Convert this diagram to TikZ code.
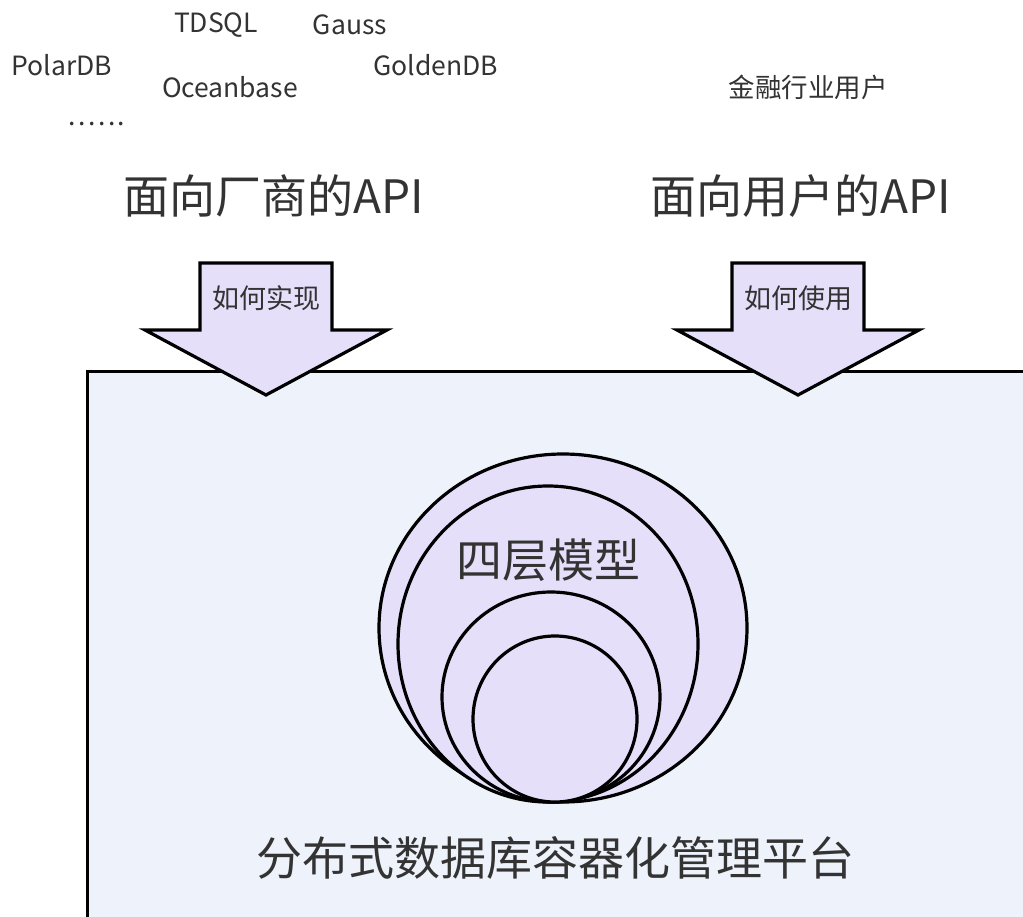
\documentclass[tikz,border=0pt]{standalone}
\usepackage{fontspec}
\setmainfont{Noto Sans CJK SC}
\definecolor{lav}{HTML}{E5DFFA}
\definecolor{boxbg}{HTML}{EEF2FB}
\definecolor{txt}{HTML}{333333}
\begin{document}
\begin{tikzpicture}[x=1pt,y=-1pt,
  lbl/.style={text=txt,inner sep=0pt,font=\fontsize{26.5}{31}\selectfont},
  small/.style={text=txt,inner sep=0pt,font=\fontsize{27}{32}\selectfont},
  big/.style={text=txt,inner sep=0pt,font=\fontsize{46}{54}\selectfont},
  ring/.style={draw=black,line width=3.2pt,fill=lav},
  bigarrow/.style={draw=black,line width=3.2pt,fill=lav,line join=miter}]
\clip (0,0) rectangle (1023,917);
\fill[white] (0,0) rectangle (1023,917);
% vendor names
\node[lbl] (tdsql) at (216,25) {TDSQL};
\node[lbl] (gauss) at (350,25) {Gauss};
\node[lbl] (polar) at (62,65) {PolarDB};
\node[lbl] (golden) at (436,65) {GoldenDB};
\node[lbl] (ocean) at (230,87) {Oceanbase};
\node[lbl] (dots) at (97,124) {.\kern2.5pt.\kern2.5pt.\kern2.5pt.\kern2.5pt.\kern2.5pt.};
\node[lbl] (users) at (808,87) {金融行业用户};
% API titles
\node[big] (vapi) at (274,196) {面向厂商的API};
\node[big] (uapi) at (801,196) {面向用户的API};
% platform box
\node[draw=black,line width=3.2pt,fill=boxbg,minimum width=960pt,minimum height=600pt,anchor=north west,inner sep=0pt] (plat) at (86,370) {};
% arrows
\draw[bigarrow] (200,263) -- (332,263) -- (332,330) -- (387,330) -- (266,395) -- (145,330) -- (200,330) -- cycle;
\draw[bigarrow] (732,263) -- (864,263) -- (864,330) -- (919,330) -- (798,395) -- (677,330) -- (732,330) -- cycle;
\node[small] (how1) at (266,298) {如何实现};
\node[small] (how2) at (798,298) {如何使用};
% nested rings
\draw[ring] (563,628) ellipse [x radius=184, y radius=174];
\draw[ring] (548,644) ellipse [x radius=150, y radius=158];
\draw[ring] (551,697) ellipse [x radius=109, y radius=105];
\draw[ring] (555,719) ellipse [x radius=82, y radius=83];
\node[big] (model) at (548,560) {四层模型};
\node[big] (platname) at (555,858) {分布式数据库容器化管理平台};
\end{tikzpicture}
\end{document}
